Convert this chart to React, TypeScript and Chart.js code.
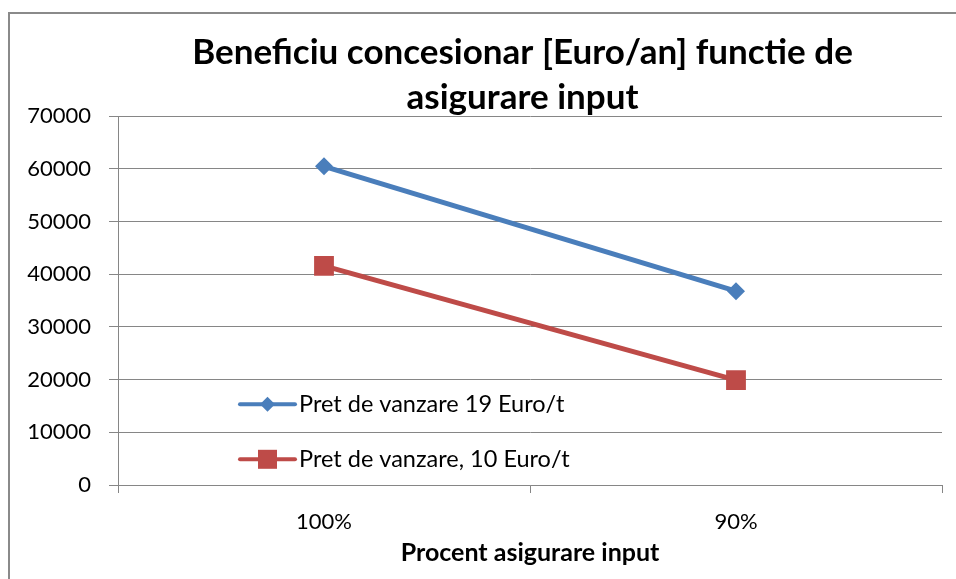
import React, { useEffect, useRef } from "react";
import { Chart, registerables } from "chart.js";

Chart.register(...registerables);

const categories = ["100%", "90%"];
const series19 = [60500, 36800];
const series10 = [41600, 19900];
const seriesLabels = ["Pret de vanzare 19 Euro/t", "Pret de vanzare, 10 Euro/t"];
const titleLines = ["Beneficiu concesionar [Euro/an] functie de", "asigurare input"];
const xTitle = "Procent asigurare input";
const yMin = 0;
const yMax = 70000;
const yStep = 10000;

const FONT = "Lato";
const GRID = "#868686";
const BLUE = "#4A7EBB";
const RED = "#BE4B48";

const framePlugin = {
  id: "frame",
  beforeDraw(chart: any) {
    const ctx = chart.ctx;
    ctx.save();
    ctx.fillStyle = "#ffffff";
    ctx.fillRect(0, 0, chart.width, chart.height);
    ctx.strokeStyle = "#8a8a8a";
    ctx.lineWidth = 2;
    ctx.beginPath();
    ctx.moveTo(chart.width + 10, 13);
    ctx.lineTo(9, 13);
    ctx.lineTo(9, chart.height + 10);
    ctx.stroke();
    ctx.restore();
  },
};

// Excel centres the title over a wider (cropped) chart: shift the title box.
const titleShiftPlugin = {
  id: "titleShift",
  afterLayout(chart: any) {
    const t = chart.titleBlock;
    if (t) {
      t.left = 103;
      t.right = chart.chartArea.right;
    }
  },
};

const legendPlugin = {
  id: "innerLegend",
  afterDraw(chart: any) {
    const ctx = chart.ctx;
    const area = chart.chartArea;
    const x0 = area.left + 122;
    const x1 = x0 + 55;
    const xm = (x0 + x1) / 2;
    const rows = [area.top + 288, area.top + 343];
    ctx.save();
    chart.data.datasets.forEach((ds: any, i: number) => {
      const y = rows[i];
      ctx.strokeStyle = ds.borderColor;
      ctx.lineWidth = 4;
      ctx.lineCap = "round";
      ctx.beginPath();
      ctx.moveTo(x0, y);
      ctx.lineTo(x1, y);
      ctx.stroke();
      ctx.fillStyle = ds.pointBackgroundColor;
      ctx.beginPath();
      if (ds.pointStyle === "rectRot") {
        const r = 7.5;
        ctx.moveTo(xm, y - r);
        ctx.lineTo(xm + r, y);
        ctx.lineTo(xm, y + r);
        ctx.lineTo(xm - r, y);
        ctx.closePath();
      } else {
        const s = 9.5;
        ctx.rect(xm - s, y - s, 2 * s, 2 * s);
      }
      ctx.fill();
      ctx.fillStyle = "#000000";
      ctx.font = `23.5px ${FONT}`;
      ctx.textAlign = "left";
      ctx.textBaseline = "middle";
      ctx.fillText(ds.label, x1 + 4, y);
    });
    ctx.restore();
  },
};

export default function App() {
  const ref = useRef<HTMLCanvasElement | null>(null);

  useEffect(() => {
    if (!ref.current) return;
    const chart = new Chart(ref.current, {
      type: "line",
      data: {
        labels: categories,
        datasets: [
          {
            label: seriesLabels[0],
            data: series19,
            borderColor: BLUE,
            backgroundColor: BLUE,
            pointBackgroundColor: BLUE,
            pointBorderColor: BLUE,
            pointStyle: "rectRot",
            pointRadius: 9,
            pointBorderWidth: 0,
            borderWidth: 5,
            tension: 0,
          } as any,
          {
            label: seriesLabels[1],
            data: series10,
            borderColor: RED,
            backgroundColor: RED,
            pointBackgroundColor: RED,
            pointBorderColor: RED,
            pointStyle: "rect",
            pointRadius: 14,
            pointBorderWidth: 0,
            borderWidth: 5,
            tension: 0,
          } as any,
        ],
      },
      options: {
        animation: false,
        responsive: false,
        maintainAspectRatio: false,
        layout: { padding: { left: 0, right: 13, top: 0, bottom: 0 } },
        plugins: {
          legend: { display: false },
          tooltip: { enabled: false },
          title: {
            display: true,
            text: titleLines,
            color: "#000000",
            font: { family: FONT, size: 35, weight: "bold", lineHeight: 1.29 },
            padding: { top: 30, bottom: -4 },
          },
        },
        scales: {
          x: {
            type: "category",
            offset: true,
            grid: {
              display: true,
              drawOnChartArea: false,
              drawTicks: true,
              tickLength: 8,
              offset: true,
              color: GRID,
            },
            border: { display: true, color: GRID, width: 1 },
            ticks: {
              color: "#000000",
              font: { family: FONT, size: 22 },
              padding: 16,
              maxRotation: 0,
            },
            title: {
              display: true,
              text: xTitle,
              color: "#000000",
              font: { family: FONT, size: 25, weight: "bold" },
              padding: { top: 0, bottom: 11 },
            },
            afterFit(scale: any) {
              scale.height = 94;
            },
          },
          y: {
            min: yMin,
            max: yMax,
            grid: {
              color: GRID,
              lineWidth: 1,
              drawTicks: true,
              tickLength: 9,
            },
            border: { display: true, color: GRID, width: 1 },
            ticks: {
              stepSize: yStep,
              color: "#000000",
              font: { family: FONT, size: 22 },
              padding: 18,
              callback: (v: any) => String(v),
            },
            afterFit(scale: any) {
              scale.width = 118;
            },
          },
        },
      },
      plugins: [framePlugin, titleShiftPlugin, legendPlugin],
    });
    return () => chart.destroy();
  }, []);

  return (
    <div style={{ position: "absolute", left: 0, top: 0, width: 956, height: 579 }}>
      <canvas ref={ref} width={956} height={579} style={{ width: 956, height: 579, display: "block" }} />
    </div>
  );
}
